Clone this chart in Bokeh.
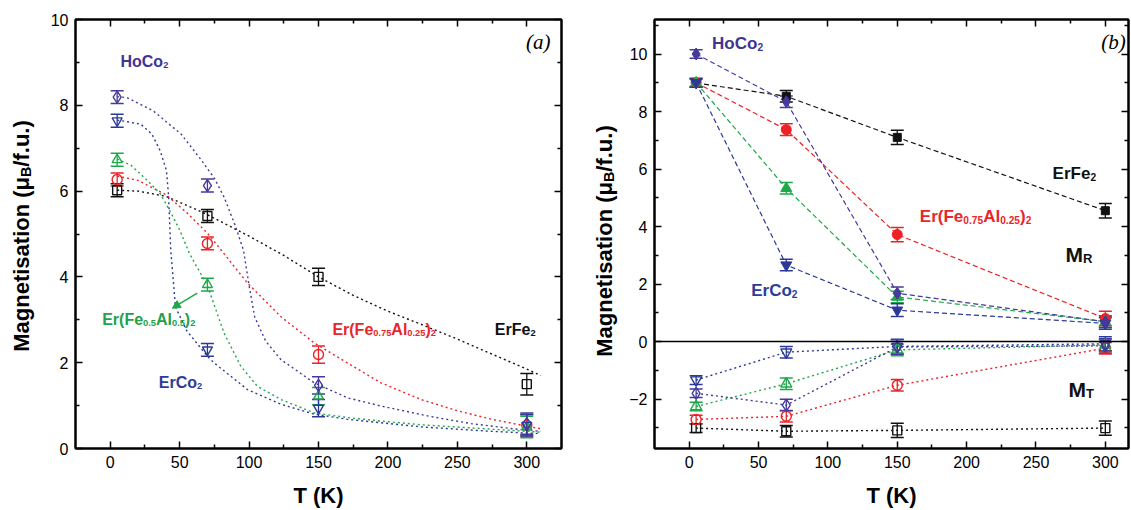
import math
from bokeh.plotting import figure
from bokeh.models import (Range1d, LinearAxis, FixedTicker, Whisker, TeeHead,
                          ColumnDataSource, Label, Arrow, NormalHead, Span,
                          CustomJSTickFormatter)
from bokeh.layouts import row
from bokeh.embed import file_html
from bokeh.resources import INLINE

# ---------------- data ----------------
T_pts = [5, 70, 150, 300]

# panel (a): total magnetisation
a_erfe2 = [6.02, 5.42, 4.00, 1.50]
a_erfe2_err = [0.15, 0.15, 0.20, 0.25]
a_hoco2 = [8.19, 6.13, 1.47, 0.58]
a_hoco2_err = [0.15, 0.15, 0.20, 0.25]
a_erco2 = [7.64, 2.30, 0.94, 0.54]
a_erco2_err = [0.15, 0.15, 0.20, 0.25]
a_fe05 = [6.73, 3.82, 1.22, 0.50]
a_fe05_err = [0.15, 0.15, 0.20, 0.25]
a_fe075 = [6.27, 4.78, 2.19, 0.54]
a_fe075_err = [0.15, 0.15, 0.20, 0.25]

# panel (a): fitted curves
fit_erfe2_T = [5, 20, 40, 60, 70, 85, 100, 125, 150, 175, 200, 225, 250, 275, 300, 310]
fit_erfe2_M = [6.02, 6.0, 5.88, 5.6, 5.45, 5.2, 4.95, 4.5, 4.0, 3.57, 3.2, 2.88, 2.55, 2.2, 1.85, 1.70]
fit_fe075_T = [5, 20, 40, 55, 70, 80, 99, 123, 147, 171, 195, 224, 250, 275, 300, 310]
fit_fe075_M = [6.35, 6.25, 5.92, 5.5, 5.02, 4.62, 3.85, 3.07, 2.46, 1.99, 1.53, 1.14, 0.88, 0.68, 0.52, 0.46]
fit_fe05_T = [5, 15, 27, 36, 42, 50, 57, 63, 70, 82, 94, 106, 123, 147, 171, 195, 225, 250, 275, 300, 310]
fit_fe05_M = [6.75, 6.6, 6.24, 5.94, 5.6, 5.1, 4.55, 4.2, 3.8, 2.69, 1.92, 1.45, 1.14, 0.83, 0.72, 0.64, 0.55, 0.5, 0.45, 0.4, 0.38]
fit_erco2_T = [5, 10, 22, 30, 36, 40.5, 42, 43.6, 47, 55, 70, 75, 99, 123, 147, 171, 195, 225, 250, 275, 300, 310]
fit_erco2_M = [7.65, 7.63, 7.56, 7.33, 6.94, 6.48, 5.9, 4.62, 3.3, 2.75, 2.15, 1.99, 1.37, 1.03, 0.80, 0.68, 0.6, 0.5, 0.45, 0.4, 0.36, 0.35]
fit_hoco2_T = [5, 12, 31, 51, 65, 75, 82, 90, 96, 100, 104, 112, 123, 147, 171, 195, 230, 260, 290, 310]
fit_hoco2_M = [8.2, 8.18, 7.87, 7.33, 6.75, 6.3, 5.86, 5.2, 4.62, 3.8, 3.07, 2.5, 2.07, 1.53, 1.18, 0.99, 0.75, 0.58, 0.46, 0.40]

# panel (b): M_R (filled) and M_T (open)
b_r_erfe2 = [8.99, 8.53, 7.10, 4.55]
b_r_erfe2_err = [0.15, 0.2, 0.25, 0.25]
b_r_hoco2 = [10.0, 8.34, 1.68, 0.69]
b_r_hoco2_err = [0.15, 0.2, 0.22, 0.2]
b_r_erco2 = [9.0, 2.66, 1.09, 0.63]
b_r_erco2_err = [0.15, 0.2, 0.22, 0.2]
b_r_fe05 = [9.0, 5.33, 1.55, 0.69]
b_r_fe05_err = [0.15, 0.2, 0.2, 0.2]
b_r_fe075 = [9.0, 7.37, 3.72, 0.80]
b_r_fe075_err = [0.15, 0.2, 0.25, 0.25]

b_t_erfe2 = [-3.01, -3.12, -3.09, -3.01]
b_t_erfe2_err = [0.15, 0.2, 0.25, 0.25]
b_t_hoco2 = [-1.80, -2.21, -0.19, -0.15]
b_t_hoco2_err = [0.15, 0.2, 0.25, 0.25]
b_t_erco2 = [-1.34, -0.37, -0.17, -0.08]
b_t_erco2_err = [0.15, 0.2, 0.25, 0.25]
b_t_fe05 = [-2.26, -1.47, -0.29, -0.12]
b_t_fe05_err = [0.15, 0.2, 0.2, 0.2]
b_t_fe075 = [-2.71, -2.60, -1.52, -0.23]
b_t_fe075_err = [0.15, 0.2, 0.2, 0.2]

x_major = [0, 50, 100, 150, 200, 250, 300]
x_minor = [25, 75, 125, 175, 225, 275]
ya_major = [0, 2, 4, 6, 8, 10]
ya_minor = [1, 3, 5, 7, 9]
yb_major = [-2, 0, 2, 4, 6, 8, 10]
yb_minor = [-3, -1, 1, 3, 5, 7, 9, 11]

# ---------------- style ----------------
PURPLE = "#45399b"
BLUE = "#2b3a97"
GREEN = "#1ea84a"
RED = "#ec2227"
BLACK = "#111111"
FONT = "Liberation Sans"

# Arial/Liberation Sans Bold advance widths (1/1000 em)
WID = {'E': 667, 'r': 389, '(': 333, 'F': 611, 'e': 556, '0': 556, '.': 278,
       '5': 556, 'A': 722, 'l': 278, ')': 333, '2': 556, '7': 556, 'H': 722,
       'o': 611, 'C': 722, 'M': 833, 'R': 722, 'T': 611, ' ': 278, 'a': 556,
       'g': 611, 'n': 611, 't': 333, 'i': 278, 's': 556, 'μ': 611, 'B': 722,
       '/': 278, 'f': 333, 'u': 611}


def tw(s, size):
    return sum(WID.get(c, 556) for c in s) * size / 1000.0


def rich(p, x, y, parts, size, color, sub_ratio=0.62, angle=0.0):
    off = 0.0
    sub = size * sub_ratio
    for txt, is_sub in parts:
        fs = sub if is_sub else size
        drop = -(0.22 * size if is_sub else 0.0)
        if angle == 0.0:
            xo, yo = off, drop
        else:
            xo, yo = -drop, off
        p.add_layout(Label(x=x, y=y, text=txt, x_offset=xo, y_offset=yo,
                           angle=angle, text_font=FONT, text_font_style="bold",
                           text_font_size=f"{fs:.1f}px", text_color=color,
                           text_align="left", text_baseline="alphabetic"))
        off += tw(txt, fs)


def style_axis(ax, major, minor, labels):
    ax.ticker = FixedTicker(ticks=major, minor_ticks=minor)
    ax.axis_line_width = 2
    ax.axis_line_color = "black"
    ax.major_tick_in = 7
    ax.major_tick_out = 0
    ax.minor_tick_in = 4
    ax.minor_tick_out = 0
    ax.major_tick_line_width = 1.5
    ax.minor_tick_line_width = 1.5
    ax.major_tick_line_color = "black"
    ax.minor_tick_line_color = "black"
    ax.major_label_text_font = FONT
    ax.major_label_text_font_size = "16px"
    ax.major_label_text_color = "black"
    ax.major_label_standoff = 7
    if not labels:
        ax.formatter = CustomJSTickFormatter(code="return ''")
        ax.major_label_standoff = 0


def make_fig(width, xr, yr, bl, br, bt, bb, ymaj, ymin):
    p = figure(width=width, height=510, output_backend="svg", toolbar_location=None,
               x_range=Range1d(*xr), y_range=Range1d(*yr),
               min_border_left=bl, min_border_right=br, min_border_top=bt,
               min_border_bottom=bb)
    p.grid.visible = False
    p.outline_line_color = "black"
    p.outline_line_width = 2
    p.background_fill_color = "white"
    p.border_fill_color = "white"
    bottom = p.below[0]
    left = p.left[0]
    style_axis(bottom, x_major, x_minor, True)
    style_axis(left, ymaj, ymin, True)
    left.axis_label = None
    bottom.axis_label = "T (K)"
    bottom.axis_label_text_font = FONT
    bottom.axis_label_text_font_style = "bold"
    bottom.axis_label_text_font_size = "22px"
    bottom.axis_label_text_color = "black"
    bottom.axis_label_standoff = 12
    top = LinearAxis()
    right = LinearAxis()
    style_axis(top, x_major, x_minor, False)
    style_axis(right, ymaj, ymin, False)
    p.add_layout(top, "above")
    p.add_layout(right, "right")
    return p


def label_fig(width):
    p = figure(width=width, height=510, output_backend="svg", toolbar_location=None,
               x_range=Range1d(0, width), y_range=Range1d(0, 510),
               x_axis_location=None, y_axis_location=None,
               min_border_left=0, min_border_right=0, min_border_top=0,
               min_border_bottom=0)
    p.grid.visible = False
    p.outline_line_color = None
    p.background_fill_color = "white"
    p.border_fill_color = "white"
    return p


def errbars(p, T, M, E, color):
    src = ColumnDataSource(dict(x=T, lo=[m - e for m, e in zip(M, E)],
                                hi=[m + e for m, e in zip(M, E)]))
    p.add_layout(Whisker(base="x", upper="hi", lower="lo", source=src,
                         line_color=color, line_width=1.3,
                         upper_head=TeeHead(size=13, line_color=color, line_width=1.5),
                         lower_head=TeeHead(size=13, line_color=color, line_width=1.5)))


YLABEL = [("Magnetisation (μ", False), ("B", True), ("/f.u.)", False)]

# ---------------- y label (a) ----------------
la = label_fig(42)
rich(la, 21, 115, YLABEL, 22, "black", 0.65, angle=math.pi / 2)

# ---------------- panel (a) ----------------
pa = make_fig(538, (-25, 325), (0, 10), 33, 19, 18, 61, ya_major, ya_minor)

for Tf, Mf, c in [(fit_erfe2_T, fit_erfe2_M, BLACK), (fit_fe075_T, fit_fe075_M, RED),
                  (fit_fe05_T, fit_fe05_M, GREEN), (fit_erco2_T, fit_erco2_M, BLUE),
                  (fit_hoco2_T, fit_hoco2_M, PURPLE)]:
    pa.line(Tf, Mf, line_color=c, line_width=1.4, line_dash="2 3")

a_series = [
    (a_erfe2, a_erfe2_err, BLACK, "square", 9),
    (a_fe075, a_fe075_err, RED, "circle", 10),
    (a_fe05, a_fe05_err, GREEN, "triangle", 10),
    (a_erco2, a_erco2_err, BLUE, "inverted_triangle", 10),
    (a_hoco2, a_hoco2_err, PURPLE, "diamond", 12),
]
for M, E, c, mk, sz in a_series:
    errbars(pa, T_pts, M, E, c)
    pa.scatter(T_pts, M, marker=mk, size=sz, line_color=c, line_width=1.4,
               fill_color="white", fill_alpha=0.0)

pa.add_layout(Arrow(end=NormalHead(size=8, fill_color=GREEN, line_color=GREEN),
                    x_start=62.7, y_start=3.62, x_end=44.7, y_end=3.27,
                    line_color=GREEN, line_width=1.5))

rich(pa, 7.4, 9.03, [("HoCo", False), ("2", True)], 16, "#3f3494", 0.58)
rich(pa, -5.8, 3.0, [("Er(Fe", False), ("0.5", True), ("Al", False), ("0.5", True),
                     (")", False), ("2", True)], 16, "#22a24a", 0.58)
rich(pa, 35, 1.54, [("ErCo", False), ("2", True)], 16, "#2e3c98", 0.58)
rich(pa, 160, 2.78, [("Er(Fe", False), ("0.75", True), ("Al", False), ("0.25", True),
                     (")", False), ("2", True)], 16, "#e8262a", 0.58)
rich(pa, 277, 2.78, [("ErFe", False), ("2", True)], 16, "#111111", 0.58)
pa.add_layout(Label(x=299.4, y=9.47, text="(a)", text_font="Liberation Serif",
                    text_font_style="italic", text_font_size="21px",
                    text_color="black", text_align="left", text_baseline="middle"))

# ---------------- y label (b) ----------------
lb = label_fig(45)
rich(lb, 23.7, 109, YLABEL, 22, "black", 0.65, angle=math.pi / 2)

# ---------------- panel (b) ----------------
pb = make_fig(506, (-25, 316.7), (-3.72, 11.2), 29, 3, 19, 57, yb_major, yb_minor)
pb.add_layout(Span(location=0, dimension="width", line_color="black", line_width=1.6))

r_series = [
    (b_r_erfe2, b_r_erfe2_err, BLACK, "square", 8),
    (b_r_fe075, b_r_fe075_err, RED, "circle", 10),
    (b_r_fe05, b_r_fe05_err, GREEN, "triangle", 11),
    (b_r_erco2, b_r_erco2_err, BLUE, "inverted_triangle", 11),
    (b_r_hoco2, b_r_hoco2_err, PURPLE, "diamond", 12),
]
t_series = [
    (b_t_erfe2, b_t_erfe2_err, BLACK, "square", 9),
    (b_t_fe075, b_t_fe075_err, RED, "circle", 10),
    (b_t_fe05, b_t_fe05_err, GREEN, "triangle", 11),
    (b_t_erco2, b_t_erco2_err, BLUE, "inverted_triangle", 11),
    (b_t_hoco2, b_t_hoco2_err, PURPLE, "diamond", 12),
]
for M, E, c, mk, sz in r_series:
    pb.line(T_pts, M, line_color=c, line_width=1.2, line_dash="5 3")
for M, E, c, mk, sz in t_series:
    pb.line(T_pts, M, line_color=c, line_width=1.4, line_dash="2 3")
for M, E, c, mk, sz in r_series:
    errbars(pb, T_pts, M, E, c)
    pb.scatter(T_pts, M, marker=mk, size=sz, line_color=c, fill_color=c, line_width=1)
for M, E, c, mk, sz in t_series:
    errbars(pb, T_pts, M, E, c)
    pb.scatter(T_pts, M, marker=mk, size=sz, line_color=c, line_width=1.4,
               fill_color="white", fill_alpha=0.0)

rich(pb, 16.5, 10.37, [("HoCo", False), ("2", True)], 17, "#3f3494", 0.6)
rich(pb, 262, 5.85, [("ErFe", False), ("2", True)], 17, "#111111", 0.6)
rich(pb, 166.3, 4.35, [("Er(Fe", False), ("0.75", True), ("Al", False), ("0.25", True),
                       (")", False), ("2", True)], 17, "#e8262a", 0.6)
rich(pb, 44.7, 1.78, [("ErCo", False), ("2", True)], 17, "#2e3c98", 0.6)
rich(pb, 271.3, 3.04, [("M", False), ("R", True)], 21, "#111111", 0.62)
rich(pb, 273.4, -1.66, [("M", False), ("T", True)], 21, "#111111", 0.62)
pb.add_layout(Label(x=297, y=10.42, text="(b)", text_font="Liberation Serif",
                    text_font_style="italic", text_font_size="21px",
                    text_color="black", text_align="left", text_baseline="middle"))

layout = row(la, pa, lb, pb)
open("out.html", "w").write(file_html(layout, INLINE))
